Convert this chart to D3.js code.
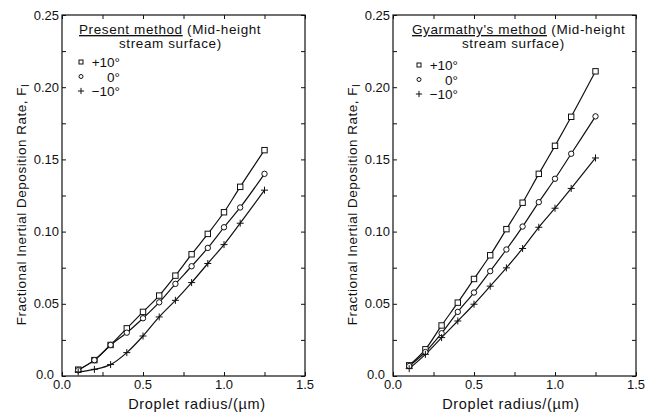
<!DOCTYPE html>
<html>
<head>
<meta charset="utf-8">
<script src="https://cdn.jsdelivr.net/npm/d3@7"></script>
<style>
  html, body { margin: 0; padding: 0; background: #fff; }
  svg { display: block; }
  text { font-family: "Liberation Sans", Arial, sans-serif; fill: #111; }
</style>
</head>
<body>
<svg id="chart" width="651" height="413"></svg>
<script>
// Droplet radius (µm) at which deposition rates were computed
const radius = [0.1, 0.2, 0.3, 0.4, 0.5, 0.6, 0.7, 0.8, 0.9, 1.0, 1.1, 1.25];

// Present method, mid-height stream surface
const presentPlus10  = [0.0044, 0.0110, 0.0215, 0.0330, 0.0444, 0.0557, 0.0695, 0.0843, 0.0984, 0.1134, 0.1310, 0.1564];
const presentZero    = [0.0040, 0.0110, 0.0215, 0.0300, 0.0400, 0.0510, 0.0638, 0.0760, 0.0887, 0.1030, 0.1167, 0.1400];
const presentMinus10 = [0.0028, 0.0046, 0.0079, 0.0162, 0.0277, 0.0409, 0.0524, 0.0647, 0.0779, 0.0910, 0.1058, 0.1287];

// Gyarmathy's method, mid-height stream surface
const gyarPlus10  = [0.0074, 0.0185, 0.0350, 0.0508, 0.0672, 0.0836, 0.1017, 0.1200, 0.1400, 0.1594, 0.1795, 0.2110];
const gyarZero    = [0.0069, 0.0166, 0.0296, 0.0444, 0.0578, 0.0726, 0.0876, 0.1035, 0.1204, 0.1366, 0.1539, 0.1798];
const gyarMinus10 = [0.0051, 0.0150, 0.0266, 0.0381, 0.0497, 0.0622, 0.0749, 0.0883, 0.1030, 0.1162, 0.1299, 0.1510];

// Axis ticks
const xTickValues = [0.0, 0.5, 1.0, 1.5];
const xTickLabels = ["0.0", "0.5", "1.0", "1.5"];
const yTickValues = [0.0, 0.05, 0.10, 0.15, 0.20, 0.25];
const yTickLabels = ["0.0", "0.05", "0.10", "0.15", "0.20", "0.25"];

// Legend
const seriesNames = ["+10°", "0°", "\u221210°"];
const seriesSymbols = ["square", "circle", "plus"];

const panels = [
  { title: "Present method", left: 62, series: [presentPlus10, presentZero, presentMinus10],
    legendX: 81, legendY: 62, titleX: 79, line2X: 119, xLabelX: 197 },
  { title: "Gyarmathy's method", left: 393, series: [gyarPlus10, gyarZero, gyarMinus10],
    legendX: 419, legendY: 65, titleX: 412, line2X: 462, xLabelX: 511 }
];

const svg = d3.select("#chart");
const plotTop = 15, plotBottom = 376, plotW = 243;

function drawSymbol(g, kind, x, y, s) {
  if (kind === "square") {
    g.append("rect").attr("x", x - s).attr("y", y - s).attr("width", 2 * s).attr("height", 2 * s)
      .attr("fill", "#fff").attr("stroke", "#111").attr("stroke-width", 1);
  } else if (kind === "circle") {
    g.append("circle").attr("cx", x).attr("cy", y).attr("r", s)
      .attr("fill", "#fff").attr("stroke", "#111").attr("stroke-width", 1);
  } else {
    g.append("path").attr("d", `M${x - s - 0.5},${y}H${x + s + 0.5}M${x},${y - s - 0.5}V${y + s + 0.5}`)
      .attr("stroke", "#111").attr("stroke-width", 1).attr("fill", "none");
  }
}

panels.forEach(p => {
  const x = d3.scaleLinear().domain([0, 1.5]).range([p.left, p.left + plotW]);
  const y = d3.scaleLinear().domain([0, 0.25]).range([plotBottom, plotTop]);
  const g = svg.append("g");

  // Frame
  g.append("rect").attr("x", x(0)).attr("y", y(0.25)).attr("width", x(1.5) - x(0)).attr("height", y(0) - y(0.25))
    .attr("fill", "none").attr("stroke", "#111").attr("stroke-width", 1.2);

  // Inward ticks on all four sides
  const xt = d3.range(0, 1.5001, 0.25);
  const yt = d3.range(0, 0.25001, 0.025);
  const tl = 4;
  g.append("g").attr("transform", `translate(0,${y(0)})`)
    .call(d3.axisBottom(x).tickValues(xt).tickSize(-tl).tickFormat(""))
    .call(a => a.select(".domain").remove());
  g.append("g").attr("transform", `translate(0,${y(0.25)})`)
    .call(d3.axisTop(x).tickValues(xt).tickSize(-tl).tickFormat(""))
    .call(a => a.select(".domain").remove());
  g.append("g").attr("transform", `translate(${x(0)},0)`)
    .call(d3.axisLeft(y).tickValues(yt).tickSize(-tl).tickFormat(""))
    .call(a => a.select(".domain").remove());
  g.append("g").attr("transform", `translate(${x(1.5)},0)`)
    .call(d3.axisRight(y).tickValues(yt).tickSize(-tl).tickFormat(""))
    .call(a => a.select(".domain").remove());
  g.selectAll(".tick line").attr("stroke", "#111");

  // Tick labels
  xTickValues.forEach((v, i) => {
    g.append("text").attr("x", x(v)).attr("y", y(0) + 13).attr("text-anchor", "middle")
      .attr("font-size", 13).text(xTickLabels[i]);
  });
  yTickValues.forEach((v, i) => {
    g.append("text").attr("x", x(0) - (v === 0 ? 8 : 3)).attr("y", y(v) + (v === 0 ? 3 : 4.5)).attr("text-anchor", "end")
      .attr("font-size", 13).text(yTickLabels[i]);
  });

  // Axis titles
  g.append("text").attr("x", p.xLabelX).attr("y", 409).attr("text-anchor", "middle")
    .attr("font-size", 14.5).attr("letter-spacing", 0.7).text("Droplet radius/(µm)");
  const yl = g.append("text").attr("transform", `translate(${p.left - 36},${(plotTop + plotBottom) / 2 + 9}) rotate(-90)`)
    .attr("text-anchor", "middle").attr("font-size", 13.5).attr("letter-spacing", 0.5);
  yl.append("tspan").text("Fractional Inertial Deposition Rate, F");
  yl.append("tspan").attr("font-size", 10).attr("dy", 3).text("I");

  // Curves and markers
  const line = d3.line().x((d, i) => x(radius[i])).y(d => y(d)).curve(d3.curveCatmullRom.alpha(0.5));
  p.series.forEach(vals => {
    g.append("path").attr("d", line(vals)).attr("fill", "none").attr("stroke", "#111").attr("stroke-width", 1.2);
  });
  p.series.forEach((vals, si) => {
    vals.forEach((v, i) => drawSymbol(g, seriesSymbols[si], x(radius[i]), y(v), si === 2 ? 3 : 2.7));
  });

  // Legend block
  const t1 = g.append("text").attr("x", p.titleX).attr("y", 34).attr("font-size", 13.5).attr("letter-spacing", 0.6);
  t1.append("tspan").attr("text-decoration", "underline").text(p.title);
  t1.append("tspan").text(" (Mid-height");
  g.append("text").attr("x", p.line2X).attr("y", 48).attr("font-size", 13.5).attr("letter-spacing", 0.6)
    .text("stream surface)");
  seriesNames.forEach((nm, i) => {
    const ly = p.legendY + i * 14.5;
    drawSymbol(g, seriesSymbols[i], p.legendX, ly, i === 2 ? 2.6 : 2);
    g.append("text").attr("x", p.legendX + 39).attr("y", ly + 5).attr("text-anchor", "end")
      .attr("font-size", 13.5).text(nm);
  });
});
</script>
</body>
</html>
